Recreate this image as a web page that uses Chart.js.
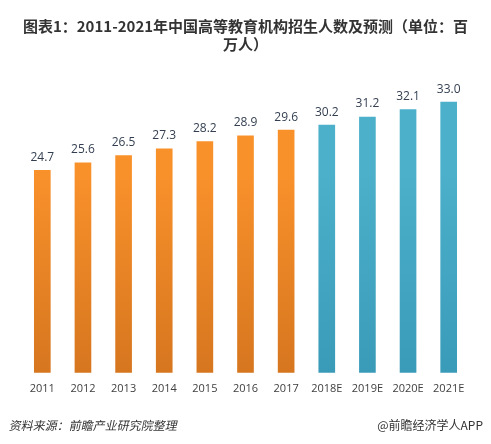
<!DOCTYPE html>
<html>
<head>
<meta charset="utf-8">
<script src="https://cdn.jsdelivr.net/npm/chart.js@4"></script>
<style>
    html, body { margin: 0; padding: 0; background: #fff; }
    #wrap { position: relative; width: 491px; height: 444px; }
    #chart { position: absolute; left: 0; top: 0; }
    .foot { position: absolute; top: 416px; font-family: "Noto Sans CJK SC", sans-serif; font-size: 12px; color: #333; }
    #source { left: 8px; transform: skewX(-12deg); transform-origin: left bottom; }
    #brand { right: 8px; }
</style>
</head>
<body>
<div id="wrap">
    <canvas id="chart" width="491" height="444"></canvas>
    <div class="foot" id="source">资料来源：前瞻产业研究院整理</div>
    <div class="foot" id="brand">@前瞻经济学人APP</div>
</div>
<script>
const years = ["2011", "2012", "2013", "2014", "2015", "2016", "2017", "2018E", "2019E", "2020E", "2021E"];
const students = [24.7, 25.6, 26.5, 27.3, 28.2, 28.9, 29.6, 30.2, 31.2, 32.1, 33.0];
const forecast = [false, false, false, false, false, false, false, true, true, true, true];

function barFill(context) {
    const chart = context.chart;
    const area = chart.chartArea;
    const isForecast = forecast[context.dataIndex];
    if (!area) return isForecast ? "#45a9c4" : "#f08a28";
    const grad = chart.ctx.createLinearGradient(0, area.bottom - 200, 0, area.bottom);
    if (isForecast) {
        grad.addColorStop(0, "#4cb0ca");
        grad.addColorStop(1, "#3a9bb9");
    } else {
        grad.addColorStop(0, "#f9912b");
        grad.addColorStop(1, "#d6761f");
    }
    return grad;
}

// value labels over each bar
const valueLabels = {
    id: "valueLabels",
    afterDatasetsDraw(chart) {
        const ctx = chart.ctx;
        const meta = chart.getDatasetMeta(0);
        ctx.save();
        ctx.font = "12px 'Open Sans', 'Noto Sans', sans-serif";
        ctx.fillStyle = "#333f50";
        ctx.textAlign = "center";
        ctx.textBaseline = "bottom";
        meta.data.forEach(function (bar, i) {
            ctx.fillText(students[i].toFixed(1), bar.x, bar.y - 7);
        });
        ctx.restore();
    }
};

new Chart(document.getElementById("chart"), {
    type: "bar",
    data: {
        labels: years,
        datasets: [{
            data: students,
            backgroundColor: barFill,
            borderWidth: 0,
            barThickness: 16
        }]
    },
    options: {
        responsive: false,
        animation: false,
        layout: { padding: { left: 22, right: 22, top: 0, bottom: 40 } },
        plugins: {
            legend: { display: false },
            tooltip: { enabled: false },
            title: {
                display: true,
                text: ["图表1：2011-2021年中国高等教育机构招生人数及预测（单位：百", "万人）"],
                color: "#333",
                font: { family: "'Noto Sans CJK SC', sans-serif", size: 15, weight: "bold" },
                padding: { top: 17, bottom: 0 },
                lineHeight: 1.6
            }
        },
        scales: {
            x: {
                grid: { display: false, drawTicks: false },
                border: { display: false },
                ticks: {
                    color: "#404040",
                    font: { family: "'Open Sans', 'Noto Sans', sans-serif", size: 11 },
                    padding: 9,
                    maxRotation: 0,
                    autoSkip: false
                }
            },
            y: {
                display: false,
                min: 0,
                max: 39.0
            }
        }
    },
    plugins: [valueLabels]
});
</script>
</body>
</html>
